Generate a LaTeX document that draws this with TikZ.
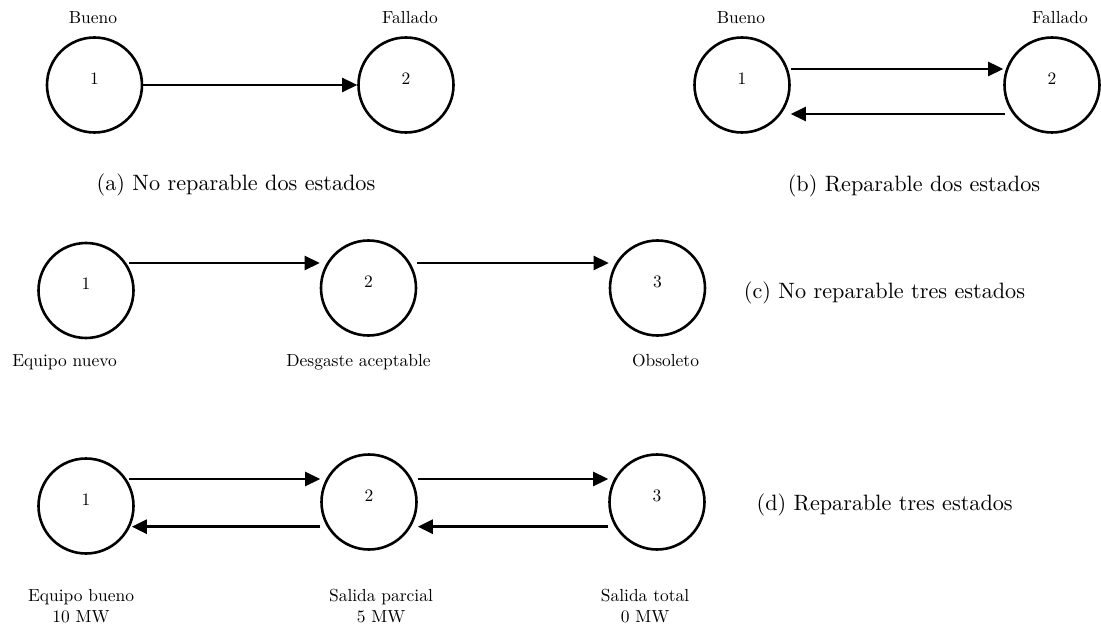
\documentclass[tikz,border=0pt]{standalone}
\usepackage{graphicx}
\usetikzlibrary{arrows.meta}
% text set at 10pt and enlarged, so the strokes keep the 10pt design weight
\newcommand\bigcaption[1]{\scalebox{2.22}{#1}}
\newcommand\smalltag[1]{\scalebox{1.745}{\begin{tabular}{@{}c@{}}#1\end{tabular}}}
\begin{document}
\begin{tikzpicture}[x=1pt,y=-1pt,
  state/.style={circle,draw,line width=2.6pt,minimum size=95pt,inner sep=0pt},
  num/.style={yshift=5pt,inner sep=0pt},
  lbl/.style={inner sep=0pt},
  captxt/.style={inner sep=0pt},
  tr/.style={line width=2.6pt,-{Triangle[length=15pt,width=14pt]}}]
\useasboundingbox (0,0) rectangle (1101,631);

% (a) two states, non repairable
\node[state,label={[num]center:\smalltag{1}}] (A1) at (94.5,85) {};
\node[state,label={[num]center:\smalltag{2}}] (A2) at (406,85) {};
\node[lbl] (A1t) at (93,19) {\smalltag{Bueno}};
\node[lbl] (A2t) at (410,19) {\smalltag{Fallado}};
\draw[tr] (A1.east) -- (A2.west);
\node[captxt] (Acap) at (236,185) {\bigcaption{(a) No reparable dos estados}};

% (b) two states, repairable
\node[state,label={[num]center:\smalltag{1}}] (B1) at (742,85) {};
\node[state,label={[num]center:\smalltag{2}}] (B2) at (1052,85) {};
\node[lbl] (B1t) at (741,19) {\smalltag{Bueno}};
\node[lbl] (B2t) at (1060,19) {\smalltag{Fallado}};
\draw[tr] ([yshift=16pt]B1.east) -- ([yshift=16pt]B2.west);
\draw[tr] ([yshift=-29pt,xshift=2pt]B2.west) -- ([yshift=-29pt]B1.east);
\node[captxt] (Bcap) at (914,186) {\bigcaption{(b) Reparable dos estados}};

% (c) three states, non repairable
\node[state,label={[num]center:\smalltag{1}}] (C1) at (86,290.5) {};
\node[state,label={[num]center:\smalltag{2}}] (C2) at (368.5,288) {};
\node[state,label={[num]center:\smalltag{3}}] (C3) at (657.5,288) {};
\draw[tr] ([xshift=-6pt,yshift=27.5pt]C1.east) -- ([yshift=25pt]C2.west);
\draw[tr] ([yshift=25pt]C2.east) -- ([yshift=25pt]C3.west);
\node[lbl] (C1t) at (64.5,362) {\smalltag{Equipo nuevo}};
\node[lbl] (C2t) at (358.5,362) {\smalltag{Desgaste aceptable}};
\node[lbl] (C3t) at (665.5,362) {\smalltag{Obsoleto}};
\node[captxt] (Ccap) at (884.5,293) {\bigcaption{(c) No reparable tres estados}};

% (d) three states, repairable
\node[state,label={[num]center:\smalltag{1}}] (D1) at (86,506) {};
\node[state,label={[num]center:\smalltag{2}}] (D2) at (369,502) {};
\node[state,label={[num]center:\smalltag{3}}] (D3) at (657,502) {};
\draw[tr] ([xshift=-6pt,yshift=27pt]D1.east) -- ([yshift=23pt]D2.west);
\draw[tr] ([yshift=-24.7pt]D2.west) -- ([xshift=-3pt,yshift=-20.7pt]D1.east);
\draw[tr] ([yshift=23pt]D2.east) -- ([yshift=23pt]D3.west);
\draw[tr] ([yshift=-24.7pt]D3.west) -- ([yshift=-24.7pt]D2.east);
\node[lbl] (D1t) at (81,607.5) {\smalltag{Equipo bueno\\10 MW}};
\node[lbl] (D2t) at (381,608) {\smalltag{Salida parcial\\5 MW}};
\node[lbl] (D3t) at (645,608) {\smalltag{Salida total\\0 MW}};
\node[captxt] (Dcap) at (884.7,505) {\bigcaption{(d) Reparable tres estados}};
\end{tikzpicture}
\end{document}
